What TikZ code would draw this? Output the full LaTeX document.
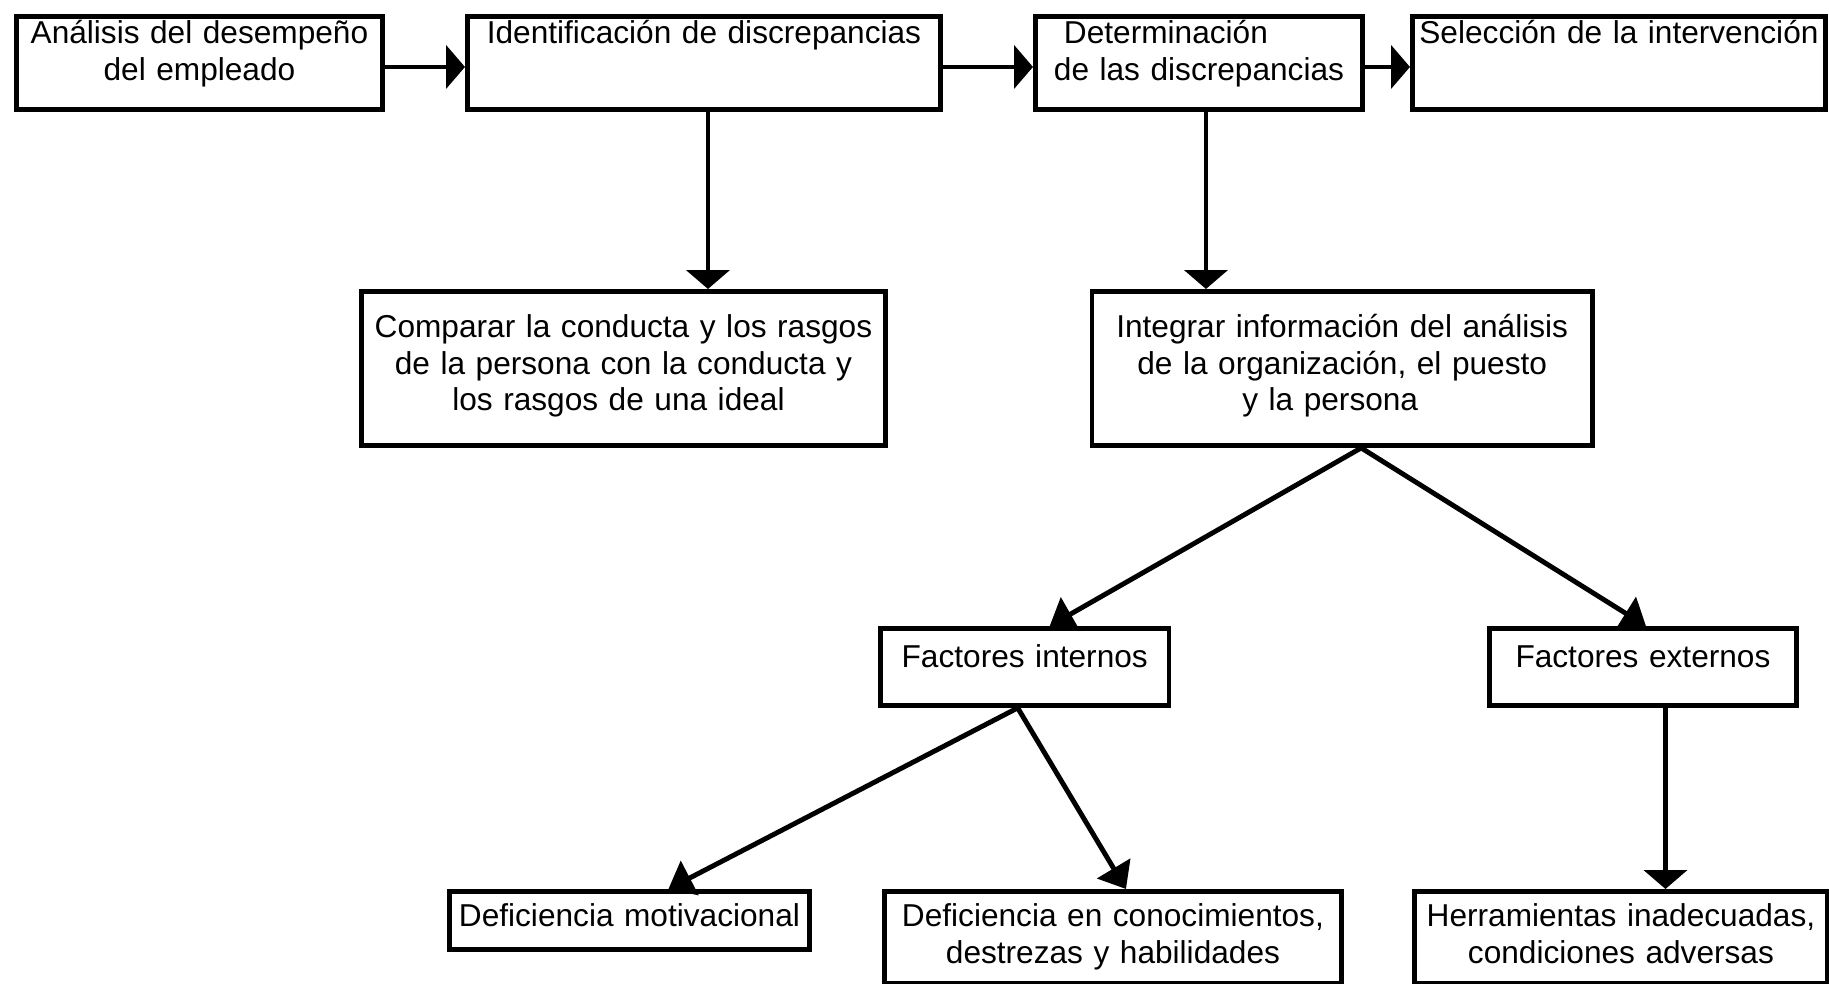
\documentclass[tikz,border=0pt]{standalone}
\usepackage{fontspec}
\setmainfont{Liberation Sans}
\usetikzlibrary{arrows.meta}

\begin{document}
\begin{tikzpicture}[
  box/.style={rectangle,draw=black,line width=1.4pt,inner sep=0pt,anchor=north west,
    align=center,font=\fontsize{9pt}{10.4pt}\selectfont},
  arr/.style={-{Triangle[length=1.9mm,width=4.3mm]},line width=1.4pt},
  slant/.style={-{Triangle[length=2.4mm,width=3.8mm]},line width=1.4pt}]
  \useasboundingbox (0,0) rectangle (18.29,-9.84);
  % top row
  \node[box,text width=3.66cm,text height=0.27cm,text depth=0.66cm] (anal) at (0.14,-0.14)
    {Análisis del desempeño\\del empleado};
  \node[box,text width=4.73cm,text height=0.27cm,text depth=0.66cm] (ident) at (4.65,-0.14)
    {Identificación de discrepancias};
  \node[box,text width=3.27cm,text height=0.27cm,text depth=0.66cm] (deter) at (10.33,-0.14)
    {Determinación\hspace{0.66cm}\mbox{}\\de las discrepancias};
  \node[box,text width=4.13cm,text height=0.27cm,text depth=0.66cm] (selec) at (14.10,-0.14)
    {Selección de la intervención};
  % second row
  \node[box,text width=5.24cm,text height=0.46cm,text depth=1.08cm] (compa) at (3.59,-2.89)
    {Comparar la conducta y los rasgos\\de la persona con la conducta y\\los rasgos de una ideal\hspace{0.1cm}\mbox{}};
  \node[box,text width=5.005cm,text height=0.46cm,text depth=1.08cm] (integ) at (10.895,-2.89)
    {Integrar información del análisis\\de la organización, el puesto\\y la persona\hspace{0.24cm}\mbox{}};
  % factores
  \node[box,text width=2.885cm,text height=0.39cm,text depth=0.38cm] (inter) at (8.78,-6.26)
    {Factores internos};
  \node[box,text width=3.07cm,text height=0.39cm,text depth=0.38cm] (exter) at (14.87,-6.26)
    {Factores externos};
  % bottom row
  \node[box,text width=3.60cm,text height=0.35cm,text depth=0.23cm] (motiv) at (4.47,-8.89)
    {Deficiencia motivacional};
  \node[box,text width=4.57cm,text height=0.35cm,text depth=0.57cm] (conoc) at (8.82,-8.89)
    {Deficiencia en conocimientos,\\destrezas y habilidades};
  \node[box,text width=4.13cm,text height=0.35cm,text depth=0.57cm] (herra) at (14.12,-8.89)
    {Herramientas inadecuadas,\\condiciones adversas};

  \draw[arr] ([yshift=-0.4mm]anal.east) -- ([yshift=-0.4mm]ident.west);
  \draw[arr] ([yshift=-0.4mm]ident.east) -- ([yshift=-0.4mm]deter.west);
  \draw[arr] ([yshift=-0.4mm]deter.east) -- ([yshift=-0.4mm]selec.west);
  \draw[arr] ([xshift=0.4mm]ident.south) -- ([xshift=0.4mm]ident.south |- compa.north);
  \draw[arr] ([xshift=0.7mm]deter.south) -- ([xshift=0.7mm]deter.south |- integ.north);
  \coordinate (split1) at ([xshift=1.9mm]integ.south);
  \draw[slant] (split1) -- ([xshift=2.5mm]inter.north);
  \draw[slant] (split1) -- ([xshift=0.3mm]exter.north);
  \coordinate (split2) at ([xshift=-0.7mm]inter.south);
  \draw[slant] (split2) -- ([xshift=3.9mm]motiv.north);
  \draw[slant] (split2) -- ([xshift=1.3mm]conoc.north);
  \draw[arr] ([xshift=2.25mm]exter.south) -- ([xshift=2.25mm]exter.south |- herra.north);
\end{tikzpicture}
\end{document}
